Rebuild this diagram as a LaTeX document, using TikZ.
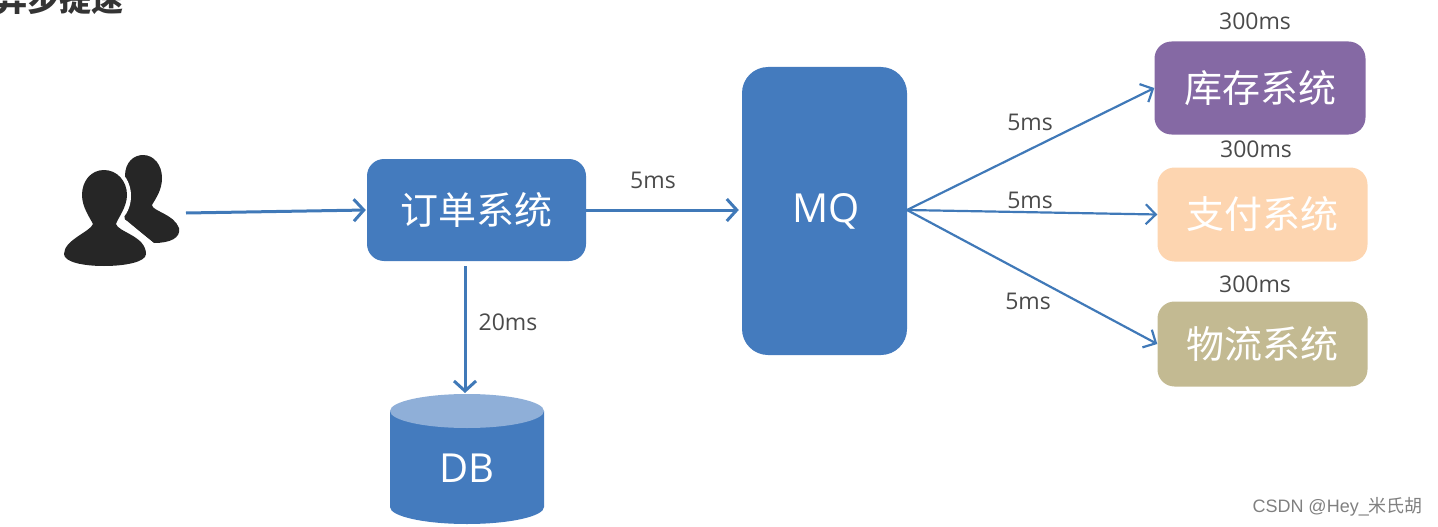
\documentclass[tikz,border=0pt]{standalone}
\usepackage{fontspec}
\usetikzlibrary{arrows.meta,shapes.geometric}
\setmainfont{Open Sans}
\newfontfamily\cjk{Noto Sans CJK SC}
\definecolor{mainblue}{HTML}{447BBE}
\definecolor{arrowblue}{HTML}{4079B8}
\definecolor{dbtop}{HTML}{8FAFD8}
\definecolor{purplebox}{HTML}{8569A4}
\definecolor{peachbox}{HTML}{FDD5B0}
\definecolor{khakibox}{HTML}{C3BA92}
\definecolor{labelgray}{HTML}{4A4A4A}
\definecolor{iconblack}{HTML}{262626}
\tikzset{
  x=1pt,y=-1pt,
  flowbox/.style={fill=#1,draw=none,rounded corners=17pt,text=white,inner sep=0pt,font=\cjk\fontsize{38}{38}\selectfont},
  flowarrow/.style={draw=arrowblue,line width=3pt,-{Straight Barb[length=10pt,width=22pt,line width=3pt]},shorten >=1pt},
  thinarrow/.style={draw=arrowblue,line width=2.2pt,-{Straight Barb[length=10pt,width=20pt,line width=2.2pt]}},
  timelabel/.style={text=labelgray,inner sep=0pt,font=\fontsize{23}{23}\selectfont},
}
\begin{document}
\begin{tikzpicture}
\useasboundingbox (0,0) rectangle (1438,527);
\begin{scope}
\clip (0,0) rectangle (1438,527);
\node[text=labelgray!70!black,inner sep=0pt,anchor=center,font=\cjk\bfseries\fontsize{32}{32}\selectfont] (title) at (59,-1) {异步提速};
\end{scope}
% people icon
\fill[iconblack] (125,176) .. controls (125,162) and (134,155) .. (143,155)
  .. controls (154,155) and (162,165) .. (162,178)
  .. controls (162,190) and (156,198) .. (152,205)
  .. controls (152,211) and (174,214) .. (179,228)
  .. controls (181,238) and (170,243) .. (154,243)
  -- (125,220) -- (120,190) -- cycle;
\fill[white] (104,196) ellipse [x radius=27,y radius=31];
\fill[white] (118,215) -- (127,221) -- (154,243.5) -- (150,250) -- (118,250) -- cycle;
\fill[iconblack] (104,170) .. controls (117,170) and (127,181) .. (127,195)
  .. controls (127,207) and (118,218) .. (116,224)
  .. controls (118,232) and (146,236) .. (146,254)
  .. controls (146,262) and (125,266) .. (104,266)
  .. controls (83,266) and (64,262) .. (64,254)
  .. controls (64,240) and (90,232) .. (93,224)
  .. controls (90,218) and (82,207) .. (82,195)
  .. controls (82,181) and (91,170) .. (104,170) -- cycle;
\coordinate (user) at (186,213);
% boxes
\node[flowbox=mainblue,minimum width=219pt,minimum height=102pt] (order) at (476.5,210) {订单系统};
\node[flowbox=mainblue,minimum width=165pt,minimum height=288pt,rounded corners=26pt,font=\fontsize{40}{40}\selectfont] (mq) at (824.5,211) {\raisebox{-1pt}{\hspace{3pt}MQ}};
\node[flowbox=purplebox,minimum width=211pt,minimum height=93pt] (stock) at (1260,88) {库存系统};
\node[flowbox=peachbox,minimum width=210pt,minimum height=94pt] (pay) at (1262.5,214.5) {支付系统};
\node[flowbox=khakibox,minimum width=210pt,minimum height=85pt] (ship) at (1262.5,344) {物流系统};
% database
\fill[mainblue] (390,411) -- (390,507) arc[start angle=180,end angle=360,x radius=77,y radius=-17] -- (544,411) -- cycle;
\fill[dbtop] (467,411) ellipse [x radius=77,y radius=17];
\node[text=white,inner sep=0pt,font=\fontsize{40}{40}\selectfont] (db) at (467,468) {DB};
\coordinate (dbtopc) at (465,394);
\coordinate (orderdown) at (465,266);
\coordinate (mqout) at (907,210);
% connectors
\draw[flowarrow] (user) -- (order.west);
\draw[flowarrow] (order.east) -- ([xshift=-2pt]mq.west |- order.east);
\draw[flowarrow] (orderdown) -- (dbtopc);
\draw[thinarrow] (mqout) -- (stock.west);
\draw[thinarrow] (mqout) -- (pay.west);
\draw[thinarrow] (mqout) -- (ship.west);
% labels
\node[timelabel] (l1) at (653,180) {5ms};
\node[timelabel] (l2) at (508,322) {20ms};
\node[timelabel] (l3) at (1030,122) {5ms};
\node[timelabel] (l4) at (1030,200) {5ms};
\node[timelabel] (l5) at (1028,301) {5ms};
\node[timelabel] (l6) at (1255,21) {300ms};
\node[timelabel] (l7) at (1256,149) {300ms};
\node[timelabel] (l8) at (1255,284) {300ms};
\node[text=black!50,inner sep=0pt,anchor=east,font=\fontsize{18}{18}\selectfont] (wm) at (1423,507) {\fontspec{Liberation Sans}CSDN @Hey\_{\cjk 米氏胡}};
\end{tikzpicture}
\end{document}
